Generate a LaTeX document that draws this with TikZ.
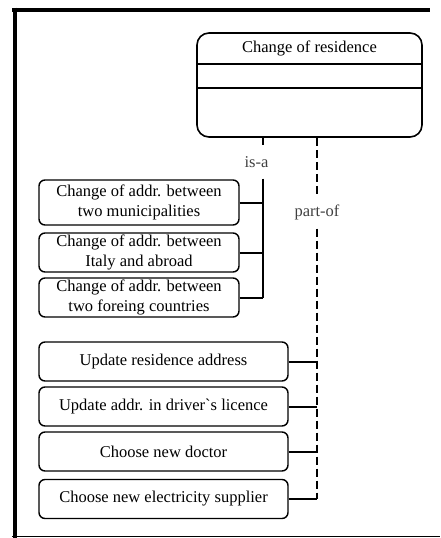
\documentclass[tikz,border=0pt]{standalone}
\usepackage{fontspec}
\setmainfont{Liberation Serif}
\begin{document}
\begin{tikzpicture}[x=1pt,y=-1pt,
  box/.style={draw,line width=1.4pt,rounded corners=6pt,align=center,inner sep=0pt,font=\fontsize{16.5}{20}\selectfont},
  bigbox/.style={draw,line width=1.6pt,rounded corners=12pt,inner sep=0pt,minimum width=225pt,minimum height=104pt},
  conn/.style={line width=2pt},
  dconn/.style={line width=1.6pt,dash pattern=on 8pt off 4pt},
  lbl/.style={inner sep=0pt,text=black!75,font=\fontsize{16.5}{18}\selectfont}
]
\useasboundingbox (0,0) rectangle (440,538);
% frame
\draw[line width=4pt] (12,9.5) -- (430,9.5);
\draw[line width=4pt] (14.5,7.5) -- (14.5,538);
\draw[line width=1pt] (12,536.5) -- (440,536.5);
% main class
\node[bigbox] (res) at (309.5,85) {};
\node[font=\fontsize{16.5}{18}\selectfont,inner sep=0pt] (restitle) at (309.5,48) {Change of residence};
\draw[line width=1.4pt] (res.west |- 0,64) -- (res.east |- 0,64);
\draw[line width=1.4pt] (res.west |- 0,88) -- (res.east |- 0,88);
% is-a boxes
\node[box,minimum width=200pt,minimum height=45pt] (b1) at (139,202.5) {Change of addr. between\\two municipalities};
\node[box,minimum width=200pt,minimum height=39pt] (b2) at (139,252.5) {Change of addr. between\\Italy and abroad};
\node[box,minimum width=200pt,minimum height=39pt] (b3) at (139,297.5) {Change of addr. between\\two foreing countries};
% part-of boxes
\node[box,minimum width=249pt,minimum height=39pt] (b4) at (163.5,361.5) {Update residence address};
\node[box,minimum width=249pt,minimum height=39pt] (b5) at (163.5,406.5) {Update addr. in driver\textasciigrave s licence};
\node[box,minimum width=249pt,minimum height=39pt] (b6) at (163.5,451.5) {Choose new doctor};
\node[box,minimum width=249pt,minimum height=39pt] (b7) at (163.5,499) {Choose new electricity supplier};
% labels
\node[lbl,minimum height=33pt,minimum width=28pt] (isa) at (256.5,162) {is-a};
\node[lbl,minimum height=33pt,minimum width=48pt] (po) at (317,212) {part-of};
\coordinate (trunk) at (263,0);
% is-a connectors
\draw[conn] (trunk |- res.south) -- (trunk |- isa.north);
\draw[conn] (trunk |- isa.south) -- (trunk |- b3.east);
\draw[conn] (b1.east) -- (b1.east -| trunk);
\draw[conn] (b2.east) -- (b2.east -| trunk);
\draw[conn] (b3.east) -- (b3.east -| trunk);
% part-of connectors
\draw[dconn] (po.north |- res.south) -- (po.north);
\draw[dconn] (po.south) -- (po.south |- b7.east);
\draw[conn] (b4.east) -- (b4.east -| po.south);
\draw[conn] (b5.east) -- (b5.east -| po.south);
\draw[conn] (b6.east) -- (b6.east -| po.south);
\draw[conn] (b7.east) -- (b7.east -| po.south);
\end{tikzpicture}
\end{document}
